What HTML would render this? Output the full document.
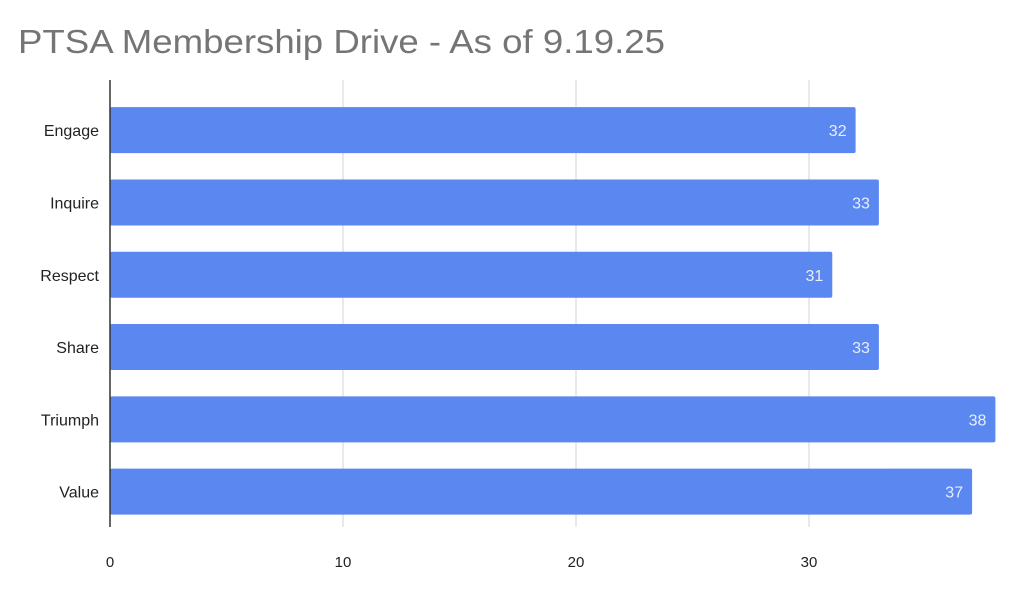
<!DOCTYPE html>
<html><head><meta charset="utf-8"><style>
body{margin:0;background:#fff;}
svg text{font-family:"Liberation Sans",Arial,sans-serif;}
</style></head><body>
<svg width="1026" height="590" viewBox="0 0 1026 590">
<rect width="1026" height="590" fill="#fff"/>
<text x="18" y="53" font-size="33" fill="#757575" textLength="647" lengthAdjust="spacingAndGlyphs">PTSA Membership Drive - As of 9.19.25</text>
<g id="grid"></g><g id="bars"></g><g id="labels"></g>
<line x1="110" y1="80" x2="110" y2="527" stroke="#333" stroke-width="1.5"/>
</svg>
<script>
const categories=["Engage","Inquire","Respect","Share","Triumph","Value"];
const values=[32,33,31,33,38,37];
const ticks=[0,10,20,30];
const NS="http://www.w3.org/2000/svg";
const x0=110,pxPer=23.3,plotTop=94,rowH=72.3,barH=46;
const xs=v=>x0+v*pxPer;
const yc=i=>plotTop+rowH*i+rowH/2;
function mk(t,a,p){const e=document.createElementNS(NS,t);for(const k in a)e.setAttribute(k,a[k]);p.appendChild(e);return e;}
const g=document.getElementById('grid'),b=document.getElementById('bars'),l=document.getElementById('labels');
ticks.forEach(t=>{
 if(t>0){const ln=mk('line',{x1:xs(t),x2:xs(t),y1:80,y2:527,stroke:'#dddddd','stroke-width':1.3},g);
 
 }
 const tx=mk('text',{x:xs(t),y:567,'font-size':15,fill:'#222','text-anchor':'middle'},l);tx.textContent=t;
 
 
});
categories.forEach((c,i)=>{
 const r=mk('rect',{x:x0,y:yc(i)-barH/2,width:xs(values[i])-x0,height:barH,fill:'#5b87f0',rx:2},b);
 
 
 const v=mk('text',{x:xs(values[i])-9,y:yc(i)+6,'font-size':16,fill:'#e8eeff','text-anchor':'end'},l);v.textContent=values[i];
 
 
 const cl=mk('text',{x:99,y:yc(i)+6,'font-size':16,fill:'#222','text-anchor':'end'},l);cl.textContent=c;
 
 
});
</script>
</body></html>
